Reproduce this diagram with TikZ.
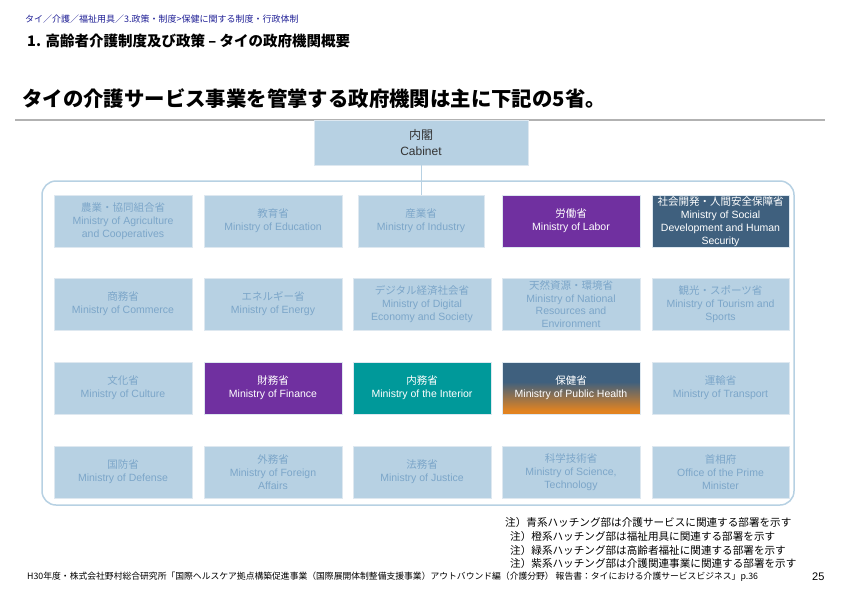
\documentclass[tikz,border=0pt]{standalone}
\usepackage{fontspec}
\setmainfont{Liberation Sans}
\newfontfamily\jp{Noto Sans CJK JP}
\definecolor{lfill}{RGB}{183,209,227}
\definecolor{lborder}{RGB}{222,232,240}
\definecolor{ltext}{RGB}{124,166,201}
\definecolor{purp}{RGB}{112,48,160}
\definecolor{slate}{RGB}{63,96,126}
\definecolor{teal2}{RGB}{0,153,154}
\definecolor{orng}{RGB}{226,131,32}
\definecolor{navy}{RGB}{32,32,150}
\pgfdeclareverticalshading{phshade}{100bp}{color(0bp)=(orng); color(28bp)=(orng); color(56bp)=(slate); color(100bp)=(slate)}
\begin{document}
\begin{tikzpicture}[x=1pt,y=-1pt,
  lbox/.style={rectangle, fill=lfill, draw=lborder, line width=0.8pt, minimum width=138pt, minimum height=52pt, inner sep=0pt, align=center, text=ltext, font=\fontsize{10.5}{13}\selectfont},
  pbox/.style={lbox, fill=purp, text=white},
  sbox/.style={lbox, fill=slate, text=white},
  tbox/.style={lbox, fill=teal2, text=white},
  gbox/.style={lbox, shading=phshade, text=white},
  conn/.style={draw=lfill, line width=1pt},
  txt/.style={anchor=west, inner sep=0pt},
  note/.style={txt, font=\jp\fontsize{10.6}{13}\selectfont}
]
\useasboundingbox (0,0) rectangle (842,595);
\fill[white] (0,0) rectangle (842,595);
% header texts
\node[txt, text=navy, font=\jp\fontsize{9}{11}\selectfont] (crumb) at (25,19) {タイ／介護／福祉用具／3.政策・制度>保健に関する制度・行政体制};
\node[txt, font=\jp\bfseries\fontsize{14.5}{17}\selectfont] (sub) at (27,41) {1. 高齢者介護制度及び政策 – タイの政府機関概要};
\node[txt, font=\jp\bfseries\fontsize{20.4}{24}\selectfont] (title) at (22,99) {タイの介護サービス事業を管掌する政府機関は主に下記の5省。};
\draw[draw=black!30, line width=1.5pt] (15,120) -- (825,120);
% container
\draw[draw=lfill, line width=1.5pt, rounded corners=14pt] (42,181) rectangle (794,505);
% cabinet
\node[lbox, minimum width=214pt, minimum height=45pt, text=black!80, font=\fontsize{12}{16}\selectfont] (cab) at (421,142.5) {{\jp 内閣}\\Cabinet};
% row 1
\node[lbox] (a1) at (123,221) {{\jp 農業・協同組合省}\\Ministry of Agriculture\\and Cooperatives};
\node[lbox] (a2) at (273,221) {{\jp 教育省}\\Ministry of Education};
\node[lbox, minimum width=126pt] (a3) at (421,221) {{\jp 産業省}\\Ministry of Industry};
\node[pbox] (a4) at (571,221) {{\jp 労働省}\\Ministry of Labor};
\node[sbox, minimum width=137pt, font=\fontsize{10.5}{12.8}\selectfont] (a5) at (720.5,221.5) {{\jp 社会開発・人間安全保障省}\\Ministry of Social\\Development and Human\\Security};
% row 2
\node[lbox] (b1) at (123,304) {{\jp 商務省}\\Ministry of Commerce};
\node[lbox] (b2) at (273,304) {{\jp エネルギー省}\\Ministry of Energy};
\node[lbox] (b3) at (422,304) {{\jp デジタル経済社会省}\\Ministry of Digital\\Economy and Society};
\node[lbox, font=\fontsize{10.5}{12.8}\selectfont] (b4) at (571,304) {{\jp 天然資源・環境省}\\Ministry of National\\Resources and\\Environment};
\node[lbox, minimum width=137pt] (b5) at (720.5,304) {{\jp 観光・スポーツ省}\\Ministry of Tourism and\\Sports};
% row 3
\node[lbox] (c1) at (123,388) {{\jp 文化省}\\Ministry of Culture};
\node[pbox] (c2) at (273,388) {{\jp 財務省}\\Ministry of Finance};
\node[tbox] (c3) at (422,388) {{\jp 内務省}\\Ministry of the Interior};
\node[gbox] (c4) at (571,388) {{\jp 保健省}\\Ministry of Public Health};
\node[lbox, minimum width=137pt] (c5) at (720.5,388) {{\jp 運輸省}\\Ministry of Transport};
% row 4
\node[lbox] (d1) at (123,472) {{\jp 国防省}\\Ministry of Defense};
\node[lbox] (d2) at (273,472) {{\jp 外務省}\\Ministry of Foreign\\Affairs};
\node[lbox] (d3) at (422,472) {{\jp 法務省}\\Ministry of Justice};
\node[lbox] (d4) at (571,472) {{\jp 科学技術省}\\Ministry of Science,\\Technology};
\node[lbox, minimum width=137pt] (d5) at (720.5,472) {{\jp 首相府}\\Office of the Prime\\Minister};
% connector
\draw[conn] (cab.south) -- (cab.south |- a3.north);
% notes
\node[note] (n1) at (505,522) {注）青系ハッチング部は介護サービスに関連する部署を示す};
\node[note] (n2) at (510,536) {注）橙系ハッチング部は福祉用具に関連する部署を示す};
\node[note] (n3) at (510,550) {注）緑系ハッチング部は高齢者福祉に関連する部署を示す};
\node[note] (n4) at (510,563) {注）紫系ハッチング部は介護関連事業に関連する部署を示す};
% footer
\node[txt, font=\jp\fontsize{8.8}{11}\selectfont] (foot) at (27,577) {H30年度・株式会社野村総合研究所「国際ヘルスケア拠点構築促進事業（国際展開体制整備支援事業）アウトバウンド編（介護分野） 報告書：タイにおける介護サービスビジネス」p.36};
\node[txt, font=\fontsize{11}{13}\selectfont] (page) at (812,577) {25};
\end{tikzpicture}
\end{document}
